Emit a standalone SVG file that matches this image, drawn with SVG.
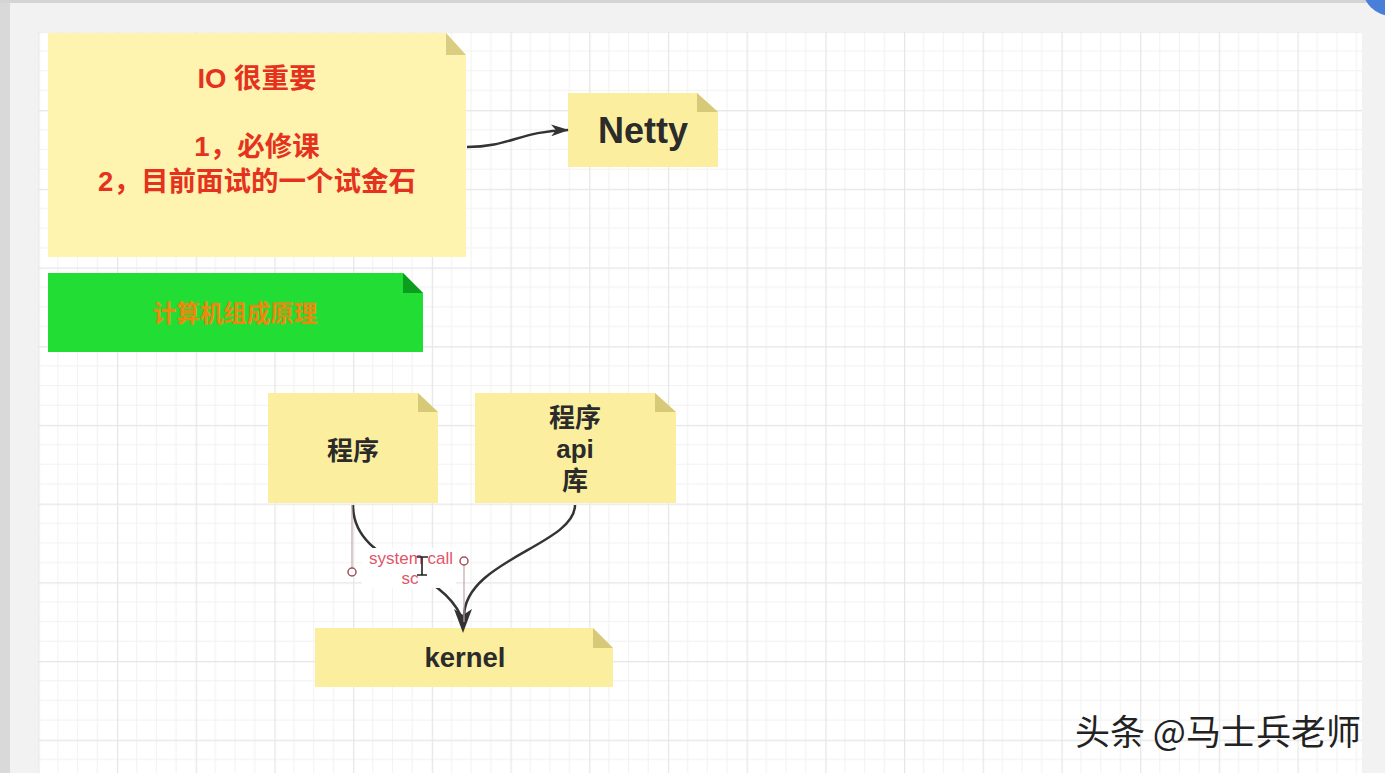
<svg xmlns="http://www.w3.org/2000/svg" width="1385" height="773" viewBox="0 0 1385 773">
<style>
.note{fill:#fbef9f}
.fold{fill:#d6ca78}
.lbl{font-family:"Liberation Sans","Noto Sans CJK SC",sans-serif;font-weight:bold;fill:#2b2b2b;text-anchor:middle}
.red{font-family:"Liberation Sans","Noto Sans CJK SC",sans-serif;font-weight:bold;fill:#e4321f;text-anchor:middle;font-size:27.5px}
.edge{fill:none;stroke:#333;stroke-width:2.5}
.head{fill:#333}
.handle{fill:none;stroke:#c4a4aa;stroke-width:1.2}
.knob{fill:#fff;stroke:#a0525e;stroke-width:1.5}
</style>
<defs>
<pattern id="grid" patternUnits="userSpaceOnUse" x="38.3" y="31.4" width="78.7" height="78.7">
<rect x="0" y="0" width="78.7" height="78.7" fill="#fff"/>
<g stroke="#f2f2f2" stroke-width="1">
<line x1="19.7" y1="0" x2="19.7" y2="78.7"/>
<line x1="39.35" y1="0" x2="39.35" y2="78.7"/>
<line x1="59" y1="0" x2="59" y2="78.7"/>
<line x1="0" y1="19.7" x2="78.7" y2="19.7"/>
<line x1="0" y1="39.35" x2="78.7" y2="39.35"/>
<line x1="0" y1="59" x2="78.7" y2="59"/>
</g>
<g stroke="#e6e6e6" stroke-width="1.2">
<line x1="0.6" y1="0" x2="0.6" y2="78.7"/>
<line x1="0" y1="0.6" x2="78.7" y2="0.6"/>
</g>
</pattern>
<marker id="arr" viewBox="0 0 18 12" markerUnits="userSpaceOnUse" markerWidth="18" markerHeight="12" refX="17" refY="6" orient="auto">
<path d="M0,0 L18,6 L0,12 L5,6 z" fill="#333"/>
</marker>
</defs>

<rect x="0" y="0" width="1385" height="773" fill="#f2f2f2"/>
<rect x="0" y="0" width="10" height="773" fill="#d9d9d9"/>
<rect x="0" y="0" width="1385" height="3" fill="#d4d4d4"/>
<circle cx="1392" cy="-14" r="30" fill="#4a7fd9"/>
<rect x="38" y="32" width="1324" height="741" fill="url(#grid)"/>

<g id="node-io">
<path class="note" d="M48,33 H446 L466,55 V257 H48 Z" style="fill:#fff3b0"/>
<path class="fold" d="M446,33 V55 H466 Z" style="fill:#d8cd80"/>
<text class="red" x="257" y="88">IO 很重要</text>
<text class="red" x="257" y="156">1，必修课</text>
<text class="red" x="257" y="191">2，目前面试的一个试金石</text>
</g>

<g id="node-netty">
<path class="note" d="M568,93 H697 L718,112 V167 H568 Z"/>
<path class="fold" d="M697,93 V112 H718 Z"/>
<text class="lbl" x="643" y="143" font-size="36">Netty</text>
</g>

<g id="node-green">
<path d="M48,273 H403 L423,293 V352 H48 Z" fill="#22dd33"/>
<path d="M403,273 V293 H423 Z" fill="#0b9e1e"/>
<text x="235" y="322" font-family="Liberation Sans,Noto Sans CJK SC,sans-serif" font-weight="bold" font-size="23.5" fill="#f0870c" text-anchor="middle">计算机组成原理</text>
</g>

<g id="node-program">
<path class="note" d="M268,393 H418 L438,412 V503 H268 Z"/>
<path class="fold" d="M418,393 V412 H438 Z"/>
<text class="lbl" x="353" y="460" font-size="26">程序</text>
</g>

<g id="node-api">
<path class="note" d="M475,393 H655 L676,412 V503 H475 Z"/>
<path class="fold" d="M655,393 V412 H676 Z"/>
<text class="lbl" x="575" y="427" font-size="26">程序</text>
<text class="lbl" x="575" y="458" font-size="26">api</text>
<text class="lbl" x="575" y="490" font-size="26">库</text>
</g>

<g id="node-kernel">
<path class="note" d="M315,628 H593 L613,648 V687 H315 Z"/>
<path class="fold" d="M593,628 V648 H613 Z"/>
<text class="lbl" x="465" y="667" font-size="27.5">kernel</text>
</g>

<g id="connectors">
<path class="edge" d="M467,147 C510,147 520,131 568,130" marker-end="url(#arr)"/>
<path class="edge" d="M353,505 C353,565 438,565 461,616"/>
<path class="edge" d="M575,505 C575,545 465,560 464,616"/>
<polygon class="head" points="454,609 463,633 472,609 463,615"/>
<line class="handle" x1="352" y1="505" x2="352" y2="568"/>
<circle class="knob" cx="352" cy="572" r="4"/>
<line class="handle" x1="464" y1="565" x2="464" y2="622"/>
<circle class="knob" cx="464" cy="561" r="4"/>
<rect x="362" y="548" width="94" height="40" fill="#fff"/>
<text x="411" y="564" font-family="Liberation Sans,sans-serif" font-size="17" fill="#e0566a" text-anchor="middle">system call</text>
<text x="410" y="584" font-family="Liberation Sans,sans-serif" font-size="17" fill="#e0566a" text-anchor="middle">sc</text>
<path d="M417,557 H428 M422,557 V575 M417,575 H427" fill="none" stroke="#222" stroke-width="1.6"/>
</g>

<text x="1075" y="745" font-family="Noto Sans CJK SC,sans-serif" font-size="35" fill="#222">头条 @马士兵老师</text>
</svg>
